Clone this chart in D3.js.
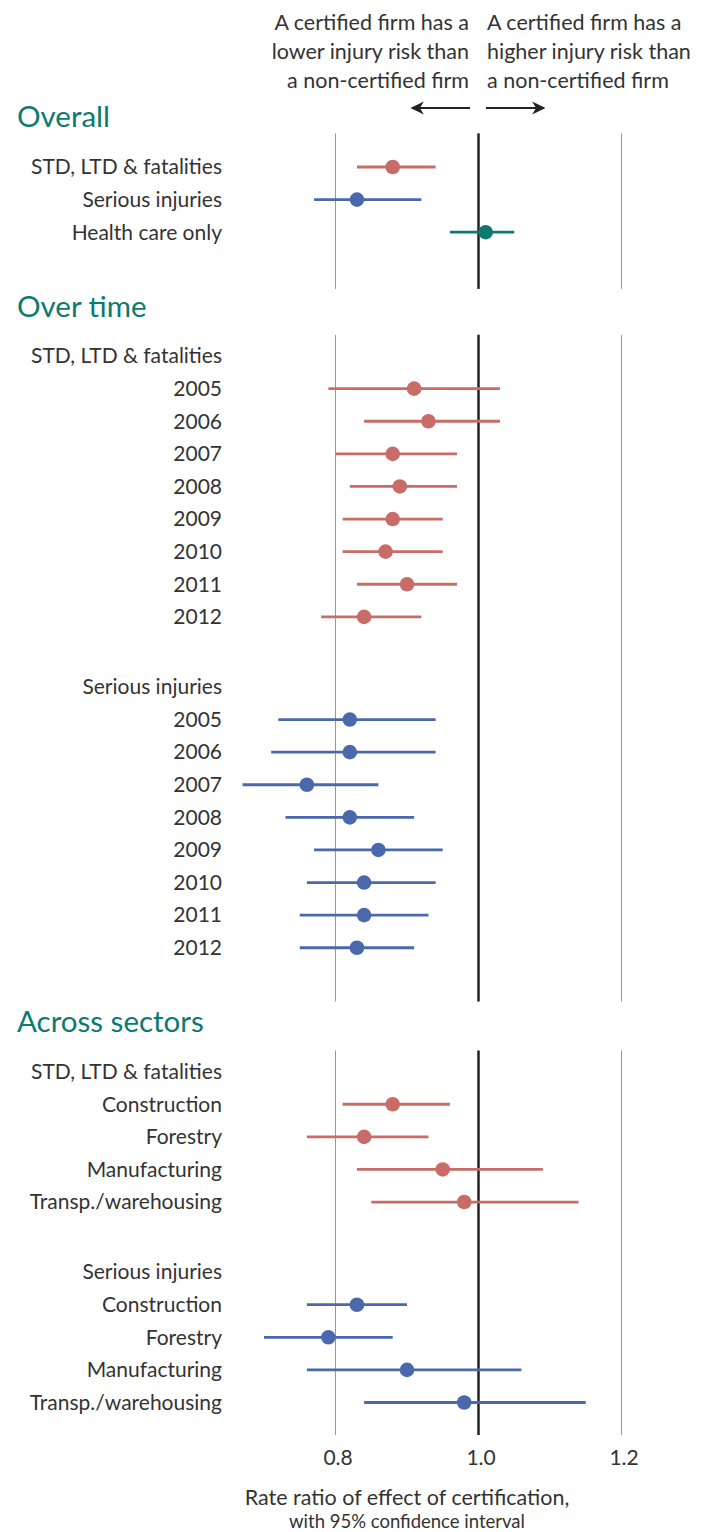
<!DOCTYPE html>
<html>
<head>
<meta charset="utf-8">
<script src="https://cdn.jsdelivr.net/npm/d3@7"></script>
<style>
  body { margin: 0; background: #fff; }
  text { font-family: Lato, "Open Sans", sans-serif; }
</style>
</head>
<body>
<div id="main"></div>
<script>
// values (rate ratio, lower and upper 95% CI)
var overallLabels = ['STD, LTD & fatalities', 'Serious injuries', 'Health care only'];
var overallEst  = [0.88, 0.83, 1.01];
var overallLow  = [0.83, 0.77, 0.96];
var overallHigh = [0.94, 0.92, 1.05];

var years = ['2005', '2006', '2007', '2008', '2009', '2010', '2011', '2012'];
var timeStdEst  = [0.91, 0.93, 0.88, 0.89, 0.88, 0.87, 0.90, 0.84];
var timeStdLow  = [0.79, 0.84, 0.80, 0.82, 0.81, 0.81, 0.83, 0.78];
var timeStdHigh = [1.03, 1.03, 0.97, 0.97, 0.95, 0.95, 0.97, 0.92];
var timeSerEst  = [0.82, 0.82, 0.76, 0.82, 0.86, 0.84, 0.84, 0.83];
var timeSerLow  = [0.72, 0.71, 0.67, 0.73, 0.77, 0.76, 0.75, 0.75];
var timeSerHigh = [0.94, 0.94, 0.86, 0.91, 0.95, 0.94, 0.93, 0.91];

var sectors = ['Construction', 'Forestry', 'Manufacturing', 'Transp./warehousing'];
var secStdEst  = [0.88, 0.84, 0.95, 0.98];
var secStdLow  = [0.81, 0.76, 0.83, 0.85];
var secStdHigh = [0.96, 0.93, 1.09, 1.14];
var secSerEst  = [0.83, 0.79, 0.90, 0.98];
var secSerLow  = [0.76, 0.70, 0.76, 0.84];
var secSerHigh = [0.90, 0.88, 1.06, 1.15];

var xTicks = [0.8, 1.0, 1.2];

var RED = '#c96c67', BLUE = '#4a69ad', TEAL = '#0b7a70', TEXT = '#333';

var width = 715, height = 1532;
var svg = d3.select('#main').append('svg').attr('width', width).attr('height', height);

var x = d3.scaleLinear().domain([0.8, 1.2]).range([335.5, 621.5]);
// y in "row units"
var y = d3.scaleLinear().domain([0, 1]).range([166, 198.6]);

function zip(labels, est, low, high, color) {
  return labels.map(function(l, i) {
    return { label: l, est: est[i], low: low[i], high: high[i], color: color };
  });
}

var sections = [
  { title: 'Overall', groups: [{ head: null, rows: [
      { label: overallLabels[0], est: overallEst[0], low: overallLow[0], high: overallHigh[0], color: RED },
      { label: overallLabels[1], est: overallEst[1], low: overallLow[1], high: overallHigh[1], color: BLUE },
      { label: overallLabels[2], est: overallEst[2], low: overallLow[2], high: overallHigh[2], color: TEAL }
    ] }], gridTop: 0.5, gridBot: 1.74 },
  { title: 'Over time', groups: [
      { head: 'STD, LTD & fatalities', rows: zip(years, timeStdEst, timeStdLow, timeStdHigh, RED) },
      { head: 'Serious injuries', rows: zip(years, timeSerEst, timeSerLow, timeSerHigh, BLUE) }
    ], gridTop: 0.88, gridBot: 1.65 },
  { title: 'Across sectors', groups: [
      { head: 'STD, LTD & fatalities', rows: zip(sectors, secStdEst, secStdLow, secStdHigh, RED) },
      { head: 'Serious injuries', rows: zip(sectors, secSerEst, secSerLow, secSerHigh, BLUE) }
    ], gridTop: 0.88, gridBot: 1.0 }
];

var pos = -1.5;
var labels = [], marks = [], grids = [];
sections.forEach(function(s, si) {
  if (si > 0) pos += 2.27;
  s.y = pos;
  var top = pos + s.gridTop;
  pos += 1.53;
  s.groups.forEach(function(g, gi) {
    if (gi > 0) pos += 2.15;
    if (g.head) { labels.push({ text: g.head, u: pos }); pos += 1; }
    g.rows.forEach(function(r) {
      r.u = pos;
      labels.push({ text: r.label, u: pos });
      marks.push(r);
      pos += 1;
    });
    pos -= 1;
  });
  grids.push({ top: top, bot: pos + s.gridBot });
});

// section titles
svg.selectAll('text.title').data(sections).enter().append('text')
  .attr('class', 'title')
  .attr('x', 17).attr('y', function(d) { return y(d.y); })
  .attr('dy', '0.35em')
  .attr('fill', TEAL)
  .style('font-size', '29.5px')
  .text(function(d) { return d.title; });

// grid lines
grids.forEach(function(g) {
  svg.selectAll(null).data(xTicks).enter().append('line')
    .attr('x1', function(d) { return x(d); }).attr('x2', function(d) { return x(d); })
    .attr('y1', y(g.top)).attr('y2', y(g.bot))
    .attr('stroke', function(d) { return d === 1.0 ? '#222' : '#999'; })
    .attr('stroke-width', function(d) { return d === 1.0 ? 2.5 : 1; });
});

// row labels
svg.selectAll('text.lab').data(labels).enter().append('text')
  .attr('class', 'lab')
  .attr('x', 222).attr('y', function(d) { return y(d.u); })
  .attr('dy', '0.35em')
  .attr('text-anchor', 'end')
  .attr('fill', TEXT)
  .style('font-size', '21px')
  .text(function(d) { return d.text; });

// CI lines and points
var m = svg.selectAll('g.mark').data(marks).enter().append('g').attr('class', 'mark');
m.append('line')
  .attr('x1', function(d) { return x(d.low); }).attr('x2', function(d) { return x(d.high); })
  .attr('y1', function(d) { return y(d.u); }).attr('y2', function(d) { return y(d.u); })
  .attr('stroke', function(d) { return d.color; })
  .attr('stroke-width', 2.8);
m.append('circle')
  .attr('cx', function(d) { return x(d.est); }).attr('cy', function(d) { return y(d.u); })
  .attr('r', 7.3)
  .attr('fill', function(d) { return d.color; });

// x axis
var axis = svg.append('g').attr('transform', 'translate(0,1447)')
  .call(d3.axisBottom(x).tickValues(xTicks).tickSize(0).tickFormat(d3.format('.1f')));
axis.select('.domain').remove();
axis.selectAll('text').attr('fill', TEXT).style('font-size', '21px')
  .style('font-family', 'Lato, sans-serif').attr('dx', '0.1em');

svg.append('text').attr('x', 407).attr('y', 1505).attr('text-anchor', 'middle')
  .attr('fill', TEXT).style('font-size', '21.5px')
  .text('Rate ratio of effect of certification,');
svg.append('text').attr('x', 407).attr('y', 1528).attr('text-anchor', 'middle')
  .attr('fill', TEXT).style('font-size', '18.5px')
  .text('with 95% confidence interval');

// direction notes
var noteLeft = ['A certified firm has a', 'lower injury risk than', 'a non-certified firm'];
var noteRight = ['A certified firm has a', 'higher injury risk than', 'a non-certified firm'];
svg.selectAll('text.nl').data(noteLeft).enter().append('text')
  .attr('x', 469).attr('y', function(d, i) { return 30 + i * 29; })
  .attr('text-anchor', 'end').attr('fill', TEXT).style('font-size', '21.5px')
  .text(function(d) { return d; });
svg.selectAll('text.nr').data(noteRight).enter().append('text')
  .attr('x', 487).attr('y', function(d, i) { return 30 + i * 29; })
  .attr('fill', TEXT).style('font-size', '21.5px')
  .text(function(d) { return d; });

var defs = svg.append('defs');
defs.append('marker').attr('id', 'arr').attr('viewBox', '0 0 10 10')
  .attr('refX', 9).attr('refY', 5).attr('markerWidth', 6).attr('markerHeight', 6)
  .attr('orient', 'auto')
  .append('path').attr('d', 'M0,0L10,5L0,10L3,5Z').attr('fill', '#222');
svg.append('line').attr('x1', 470).attr('x2', 412).attr('y1', 108).attr('y2', 108)
  .attr('stroke', '#222').attr('stroke-width', 2.2).attr('marker-end', 'url(#arr)');
svg.append('line').attr('x1', 486).attr('x2', 544).attr('y1', 108).attr('y2', 108)
  .attr('stroke', '#222').attr('stroke-width', 2.2).attr('marker-end', 'url(#arr)');
</script>
</body>
</html>
